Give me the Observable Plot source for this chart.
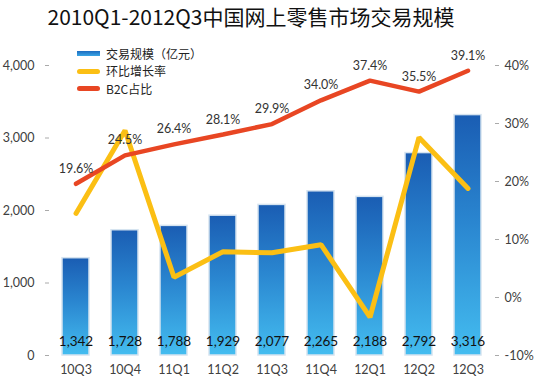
<!DOCTYPE html>
<html>
<head>
<meta charset="utf-8">
<script src="https://cdn.jsdelivr.net/npm/d3@7"></script>
<script src="https://cdn.jsdelivr.net/npm/@observablehq/plot@0.6"></script>
<style>
  html, body { margin: 0; padding: 0; background: #fff; }
  #wrap { position: relative; width: 539px; height: 385px; overflow: hidden; }
  #title { height: 38px; line-height: 32px; width: 502px; text-align: center;
    font-family: "Noto Sans CJK SC", sans-serif; font-size: 21px; color: #111; white-space: nowrap; }
  #legend { position: absolute; left: 77px; top: 45px; font-family: "Noto Sans CJK SC", sans-serif;
    font-size: 12px; color: #222; }
  .item { display: flex; align-items: center; height: 17.6px; }
  .item span { line-height: 16px; display: inline-block; height: 16px; }
  .sw { width: 23px; height: 5px; margin-right: 6px; border-radius: 3px; }
</style>
</head>
<body>
<div id="wrap">
  <div id="title"></div>
  <div id="legend"></div>
  <div id="chart"></div>
</div>
<script>
const title = "2010Q1-2012Q3中国网上零售市场交易规模";
const categories = ["10Q3","10Q4","11Q1","11Q2","11Q3","11Q4","12Q1","12Q2","12Q3"];
const volume = [1342, 1728, 1788, 1929, 2077, 2265, 2188, 2792, 3316];
const growth = [14.5, 28.8, 3.5, 7.9, 7.7, 9.1, -3.4, 27.6, 18.8];
const b2c = [19.6, 24.5, 26.4, 28.1, 29.9, 34.0, 37.4, 35.5, 39.1];
const leftTicks = [0, 1000, 2000, 3000, 4000];
const rightTicks = [-10, 0, 10, 20, 30, 40];
const legendLabels = ["交易规模（亿元）", "环比增长率", "B2C占比"];
const legendColors = ["linear-gradient(#1d6cc0,#3aa6e4)", "#FBBF14", "#E84623"];

document.getElementById("title").textContent = title;
const leg = document.getElementById("legend");
legendLabels.forEach((t, i) => {
  const it = document.createElement("div"); it.className = "item";
  const sw = document.createElement("div"); sw.className = "sw";
  sw.style.background = legendColors[i];
  if (i === 0) sw.style.borderRadius = "0";
  const tx = document.createElement("span"); tx.textContent = t;
  it.appendChild(sw); it.appendChild(tx); leg.appendChild(it);
});

const pctMin = rightTicks[0], pctMax = rightTicks[rightTicks.length - 1];
const yMax = leftTicks[leftTicks.length - 1];
const toY = p => (p - pctMin) / (pctMax - pctMin) * yMax;
const fromY = y => y / yMax * (pctMax - pctMin) + pctMin;

const data = categories.map((c, i) => ({c, v: volume[i], g: growth[i], b: b2c[i]}));

const chart = Plot.plot({
  width: 539, height: 347,
  marginTop: 27, marginBottom: 30, marginLeft: 49, marginRight: 45,
  style: {fontFamily: "Lato, sans-serif", fontSize: "12px", color: "#404040", background: "white"},
  x: {domain: categories, paddingInner: 0.45, paddingOuter: 0.225, label: null},
  y: {domain: [0, yMax], label: null},
  marks: [
    Plot.barY(data, {x: "c", y: "v", fill: "url(#barGrad)", stroke: "#d6e4f0", strokeWidth: 1.5}),
    Plot.axisY({ticks: leftTicks, tickFormat: d3.format(","), tickSize: 4, tickPadding: 11, stroke: "#aaaaaa", line: true, label: null, fontSize: 12.5}),
    Plot.axisY({anchor: "right", ticks: rightTicks.map(toY), tickFormat: d => Math.round(fromY(d)) + "%", tickSize: 4, tickPadding: 6, stroke: "#aaaaaa", line: true, label: null, fontSize: 12.5}),
    Plot.axisX({tickSize: 0, tickPadding: 10, stroke: "#aaaaaa", line: true, label: null, fontSize: 12.5}),
    Plot.text(data, {x: "c", y: 0, text: d => d3.format(",")(d.v), dy: -14, fontSize: 13.5, fill: "#111"}),
    Plot.line(data, {x: "c", y: d => toY(d.g), stroke: "#FBBF14", strokeWidth: 5, strokeLinejoin: "miter"}),
    Plot.line(data, {x: "c", y: d => toY(d.b), stroke: "#E84623", strokeWidth: 4.5, strokeLinejoin: "miter"}),
    Plot.text(data, {x: "c", y: d => toY(d.b), text: d => d.b.toFixed(1) + "%", dy: -15, fontSize: 12.5, fill: "#333"})
  ]
});

const defs = d3.select(chart).insert("defs", ":first-child");
const grad = defs.append("linearGradient").attr("id", "barGrad")
  .attr("x1", 0).attr("y1", 0).attr("x2", 0).attr("y2", 1);
grad.append("stop").attr("offset", "0%").attr("stop-color", "#1a5db3");
grad.append("stop").attr("offset", "45%").attr("stop-color", "#2a86d0");
grad.append("stop").attr("offset", "100%").attr("stop-color", "#44bdf0");

document.getElementById("chart").appendChild(chart);
</script>
</body>
</html>
